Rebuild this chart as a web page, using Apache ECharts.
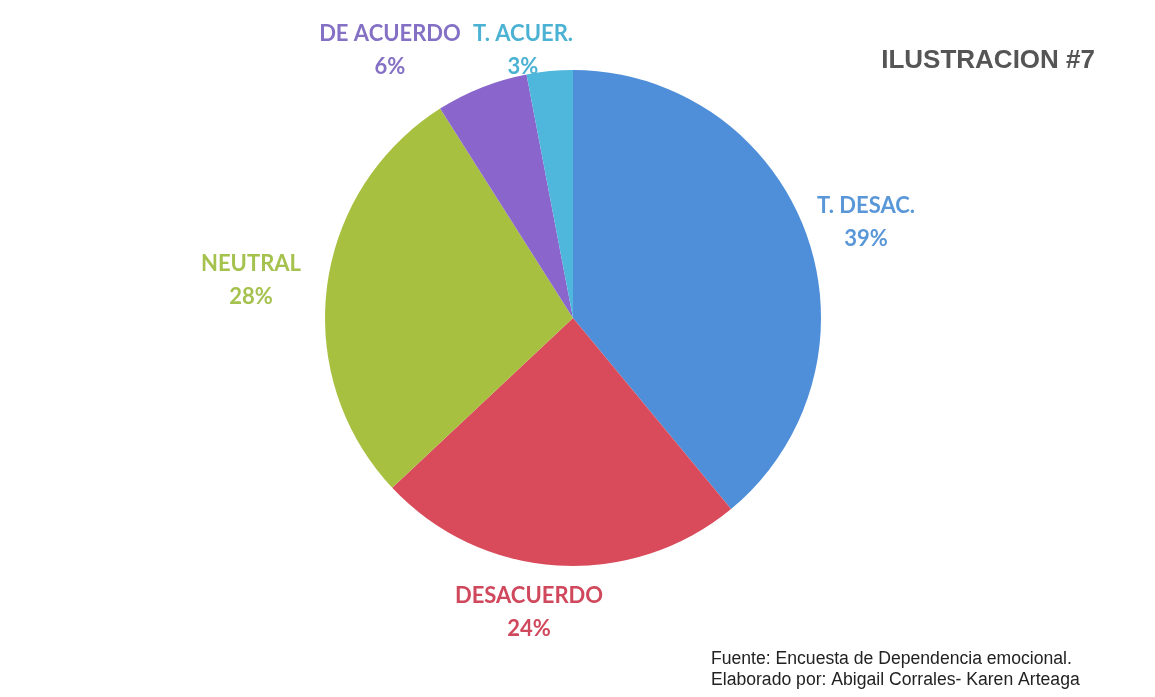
<!DOCTYPE html>
<html>
<head>
<meta charset="utf-8">
<script src="https://cdn.jsdelivr.net/npm/echarts@6/dist/echarts.min.js"></script>
<style>
  html, body { margin: 0; padding: 0; background: #fff; }
  #chart { width: 1155px; height: 697px; }
</style>
</head>
<body>
<div id="chart"></div>
<script>
// datos del gráfico
const categories = ['T. DESAC.', 'DESACUERDO', 'NEUTRAL', 'DE ACUERDO', 'T. ACUER.']
const values = [39, 24, 28, 6, 3]
const sliceColors = ['#4f8fd9', '#d94a5a', '#a8c040', '#8a66cc', '#4fb6dc']
const labelColors = ['#5a97d8', '#d0485c', '#a6c24e', '#8470c4', '#4cb2d4']
// posición de cada etiqueta (centro del texto)
const labelAnchors = [[866, 222], [529, 612], [251, 280], [390, 50], [523, 50]]

const chart = echarts.init(document.getElementById('chart'))
const option = {
  animation: false,
  title: [
    {
      text: 'ILUSTRACION #7',
      right: 55,
      top: 43,
      textStyle: {
        color: '#555555',
        fontFamily: 'Liberation Sans',
        fontSize: 26,
        fontWeight: 'bold'
      }
    },
    {
      text: 'Fuente: Encuesta de Dependencia emocional.\nElaborado por: Abigail Corrales- Karen Arteaga',
      left: 706,
      top: 644,
      textStyle: {
        color: '#222222',
        fontFamily: 'Liberation Sans',
        fontSize: 17.6,
        fontWeight: 'normal',
        lineHeight: 21
      }
    }
  ],
  series: [
    {
      type: 'pie',
      center: [573, 318],
      radius: [0, 248],
      startAngle: 90,
      clockwise: true,
      data: categories.map((name, i) => ({
        name: name,
        value: values[i],
        itemStyle: { color: sliceColors[i] },
        label: { color: labelColors[i] }
      })),
      label: {
        show: true,
        position: 'outside',
        formatter: '{b}\n{c}%',
        fontFamily: 'Lato',
        fontWeight: 'bold',
        fontSize: 22,
        lineHeight: 33
      },
      labelLine: { show: false },
      labelLayout: function(params) {
        const p = labelAnchors[params.dataIndex]
        return { x: p[0], y: p[1], align: 'center', verticalAlign: 'middle' }
      },
      emphasis: { disabled: true }
    }
  ]
}
chart.setOption(option)
</script>
</body>
</html>
